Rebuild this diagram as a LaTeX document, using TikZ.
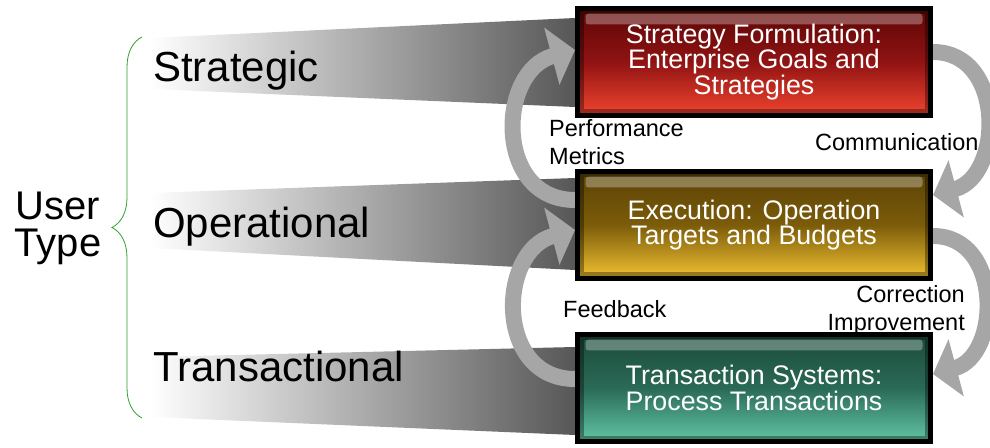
\documentclass[tikz,border=0pt]{standalone}
\usepackage{fontspec}
\setmainfont{Liberation Sans}
\usetikzlibrary{arrows.meta,positioning,decorations.pathreplacing,backgrounds}
\definecolor{redtop}{HTML}{5C0606}
\definecolor{redmid}{HTML}{901313}
\definecolor{redbot}{HTML}{F2452F}
\definecolor{goldtop}{HTML}{5A4206}
\definecolor{goldmid}{HTML}{7C5C0A}
\definecolor{goldbot}{HTML}{F2C232}
\definecolor{tealtop}{HTML}{1C4A3B}
\definecolor{tealmid}{HTML}{2A6A56}
\definecolor{tealbot}{HTML}{62C6A6}
\definecolor{funnelgray}{HTML}{575757}
\definecolor{arrowgray}{HTML}{A6A6A6}
\definecolor{bracegreen}{HTML}{2CA02C}

\begin{document}
\begin{tikzpicture}[x=1pt,y=1pt,node distance=51pt]
  \tikzset{
    stagebox/.style={rectangle,draw=black,line width=5pt,minimum width=353pt,minimum height=107pt,
      inner sep=0pt,align=center,text=white,font=\fontsize{26.8}{25.5}\selectfont,
      path picture={
        \fill[white,opacity=.3,rounded corners=3pt] ([xshift=8pt,yshift=-5pt]path picture bounding box.north west)
          rectangle ([xshift=-8pt,yshift=-16pt]path picture bounding box.north east);
        \draw[black,opacity=.35,line width=12pt] (path picture bounding box.south west)
          rectangle (path picture bounding box.north east);}},
    tier/.style={inner sep=0pt,font=\fontsize{42}{44}\selectfont},
    note/.style={inner sep=0pt,font=\fontsize{23.5}{28}\selectfont},
    bendarrow/.style={draw=arrowgray,line width=16pt,-{Triangle[length=24pt,width=58pt]}},
    funnel/.style={left color=white,right color=funnelgray}
  }
  \path[use as bounding box,clip] (0,0) rectangle (990,447);

  % the three stages
  \node[stagebox,top color=redtop,bottom color=redbot,middle color=redmid] (strat) at (754,385)
    {Strategy Formulation:\\Enterprise Goals and\\Strategies};
  \node[stagebox,top color=goldtop,bottom color=goldbot,middle color=goldmid,below=of strat] (exec)
    {Execution: Operation\\Targets and Budgets};
  \node[stagebox,top color=tealtop,bottom color=tealbot,middle color=tealmid,below=of exec] (trans)
    {Transaction Systems:\\Process Transactions};

  % user tiers
  \node[tier,anchor=base west] (strategic) at (153,365) {Strategic};
  \node[tier,anchor=base west] (operational) at (153,209) {Operational};
  \node[tier,anchor=base west] (transactional) at (153,65) {Transactional};
  \node[tier,align=center,font=\fontsize{40}{37}\selectfont] (user) at (58,219) {User\\Type};
  \draw[bracegreen,line width=0.8pt,decorate,decoration={brace,amplitude=30pt}] (142,29) -- (142,410);

  % labels of the loops
  \node[note,align=left,anchor=west] (perf) at (549,304.5) {Performance\\Metrics};
  \node[note,anchor=base west] (comm) at (815,296) {Communication};
  \node[note,anchor=base west] (feed) at (563,129) {Feedback};
  \node[note,align=right,anchor=east] (corr) at (965,136.5) {Correction\\Improvement};

  \begin{scope}[on background layer]
    \shade[funnel] (150,409) -- (strat.north west |- 0,429) -- (strat.north west |- 0,340) -- (150,358) -- cycle;
    \shade[funnel] (150,254) -- (exec.west |- 0,269) -- (exec.west |- 0,177) -- (150,199) -- cycle;
    \shade[funnel] (150,90) -- (trans.west |- 0,100) -- (trans.west |- 0,12) -- (150,30) -- cycle;

    \draw[bendarrow] ([yshift=25pt]exec.west) to[out=180,in=195,looseness=1.38] ([yshift=12pt]strat.west);
    \draw[bendarrow] ([yshift=9pt]trans.west) to[out=180,in=195,looseness=1.38] ([yshift=-5pt]exec.west);
    \draw[bendarrow] ([yshift=10pt]strat.east) to[out=0,in=15,looseness=1.3] ([yshift=30pt]exec.east);
    \draw[bendarrow] ([yshift=-11pt]exec.east) to[out=0,in=15,looseness=1.3] ([yshift=14pt]trans.east);
  \end{scope}
\end{tikzpicture}
\end{document}
